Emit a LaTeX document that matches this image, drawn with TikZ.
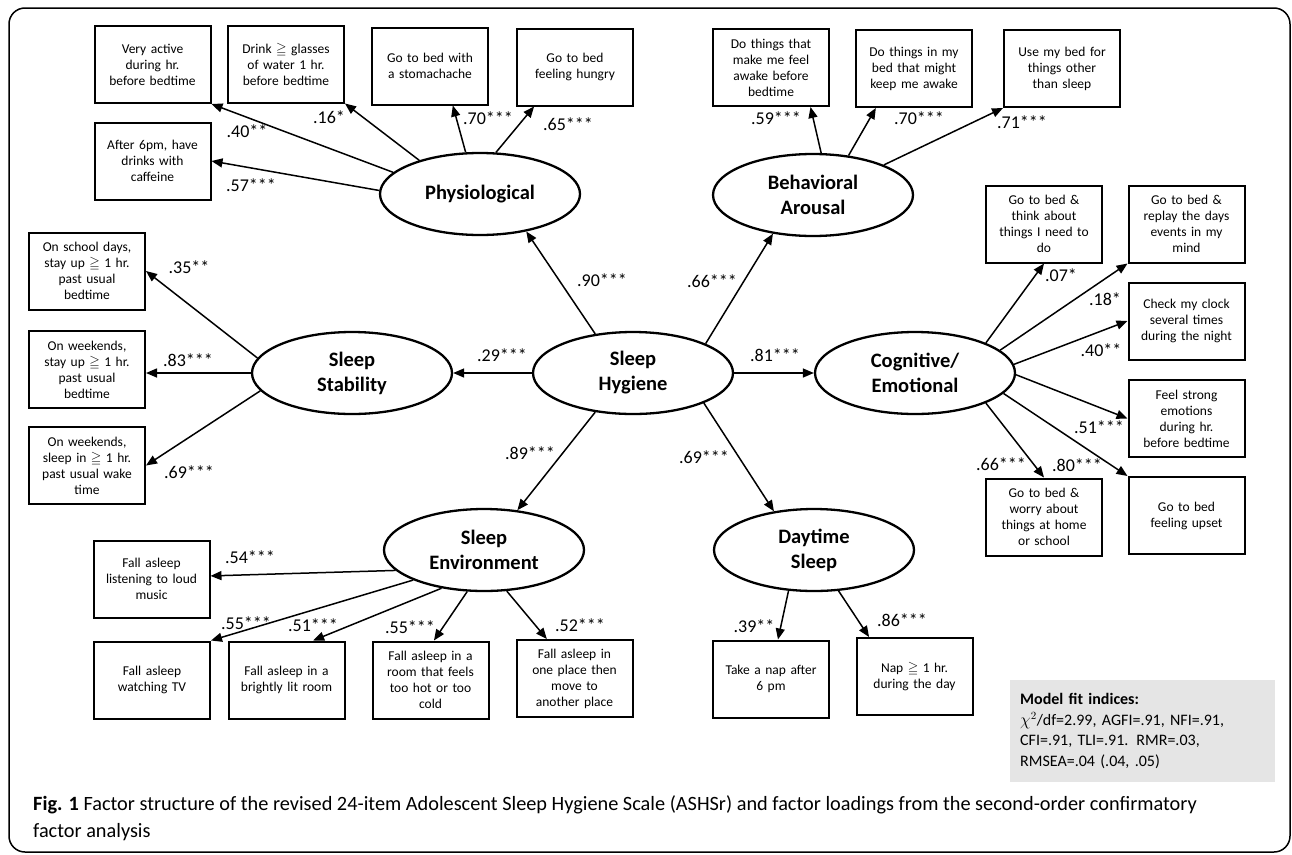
\documentclass[tikz,border=0pt]{standalone}
\usepackage{fontspec}
\usepackage{amssymb}
\setmainfont{Carlito}
\usetikzlibrary{shapes.geometric,arrows.meta}

\tikzset{
	itembox/.style={draw, line width=2pt, minimum width=116pt, minimum height=77pt, text width=110pt, align=center, inner sep=0pt, font=\fontsize{13.5}{16}\selectfont},
	factor/.style={ellipse, draw, line width=2.3pt, minimum width=200pt, minimum height=82pt, inner sep=0pt, align=center, font=\bfseries\fontsize{20.5}{25}\selectfont},
	loadarrow/.style={line width=1.5pt, -{Triangle[length=11pt,width=9pt]}},
	coef/.style={font=\fontsize{18}{20}\selectfont, inner sep=0pt},
}

\begin{document}
\begin{tikzpicture}[x=1pt,y=-1pt]
	\useasboundingbox (0,0) rectangle (1292,854);
	% cornice
	\draw[line width=1.5pt, rounded corners=16pt] (9,8) rectangle (1290,852);

	% fattori
	\node[factor] (hyg) at (633,373) {Sleep\\Hygiene};
	\node[factor] (stab) at (352,373) {Sleep\\Stability};
	\node[factor] (cog) at (915,373) {Cognitive/\\Emotional};
	\node[factor] (phys) at (480,194) {Physiological};
	\node[factor] (beh) at (813,195) {Behavioral\\Arousal};
	\node[factor] (env) at (484,550) {Sleep\\Environment};
	\node[factor] (day) at (814,550) {Daytime\\Sleep};

	% item fisiologici
	\node[itembox] (va) at (152.5,64.5) {Very active\\during hr.\\before bedtime};
	\node[itembox] (drink) at (286,64) {Drink $\geqq$ glasses\\of water 1 hr.\\before bedtime};
	\node[itembox] (stom) at (430,66) {Go to bed with\\a stomachache};
	\node[itembox] (hungry) at (575,67) {Go to bed\\feeling hungry};
	\node[itembox] (caff) at (152.5,161) {After 6pm, have\\drinks with\\caffeine};

	% item comportamentali
	\node[itembox] (awake) at (771,67.5) {Do things that\\make me feel\\awake before\\bedtime};
	\node[itembox] (keep) at (914,68.5) {Do things in my\\bed that might\\keep me awake};
	\node[itembox] (use) at (1062,68.5) {Use my bed for\\things other\\than sleep};

	% item cognitivi
	\node[itembox] (think) at (1044,224) {Go to bed \&\\think about\\things I need to\\do};
	\node[itembox] (replay) at (1186.5,224) {Go to bed \&\\replay the days\\events in my\\mind};
	\node[itembox] (clock) at (1186.5,321) {Check my clock\\several times\\during the night};
	\node[itembox] (strong) at (1186.5,418.5) {Feel strong\\emotions\\during hr.\\before bedtime};
	\node[itembox] (worry) at (1044,517) {Go to bed \&\\worry about\\things at home\\or school};
	\node[itembox] (upset) at (1186.5,515.5) {Go to bed\\feeling upset};

	% item stabilita
	\node[itembox] (school) at (87,271) {On school days,\\stay up $\geqq$ 1 hr.\\past usual\\bedtime};
	\node[itembox] (wkstay) at (87,369.5) {On weekends,\\stay up $\geqq$ 1 hr.\\past usual\\bedtime};
	\node[itembox] (wksleep) at (87,465.5) {On weekends,\\sleep in $\geqq$ 1 hr.\\past usual wake\\time};

	% item ambiente
	\node[itembox] (music) at (151.5,579) {Fall asleep\\listening to loud\\music};
	\node[itembox] (tv) at (152,680) {Fall asleep\\watching TV};
	\node[itembox] (bright) at (286.5,680) {Fall asleep in a\\brightly lit room};
	\node[itembox] (hot) at (430.5,680) {Fall asleep in a\\room that feels\\too hot or too\\cold};
	\node[itembox] (move) at (574.5,678.5) {Fall asleep in\\one place then\\move to\\another place};

	% item sonno diurno
	\node[itembox] (nap6) at (771,679) {Take a nap after\\6 pm};
	\node[itembox] (napday) at (914.5,676.5) {Nap $\geqq$ 1 hr.\\during the day};

	% frecce
	\draw[loadarrow] (hyg.west) -- (stab.east);
	\draw[loadarrow] (hyg.east) -- (cog.west);
	\draw[loadarrow] (hyg.134) -- (phys.-39);
	\draw[loadarrow] (hyg.22) -- (beh.224);
	\draw[loadarrow] (hyg.226) -- (env.50);
	\draw[loadarrow] (hyg.-23) -- (day.136);

	\draw[loadarrow] (phys.166) -- (va.south east);
	\draw[loadarrow] (phys.151) -- (drink.south east);
	\draw[loadarrow] (phys.178) -- (caff.east);
	\draw[loadarrow] (phys.109) -- (stom.-60);
	\draw[loadarrow] (phys.69) -- (hungry.224);

	\draw[loadarrow] (beh.79) -- (awake.-45);
	\draw[loadarrow] (beh.48) -- (keep.226);
	\draw[loadarrow] (beh.23) -- (use.south west);

	\draw[loadarrow] (cog.23) -- (think.south);
	\draw[loadarrow] (cog.15) -- (replay.south west);
	\draw[loadarrow] (cog.5) -- (clock.west);
	\draw[loadarrow] (cog.-1) -- (strong.west);
	\draw[loadarrow] (cog.-13) -- (upset.north west);
	\draw[loadarrow] (cog.-23) -- (worry.north);

	\draw[loadarrow] (stab.171) -- (school.east);
	\draw[loadarrow] (stab.west) -- (wkstay.east |- stab.west);
	\draw[loadarrow] (stab.191) -- (wksleep.east);

	\draw[loadarrow] (env.193) -- (music.3);
	\draw[loadarrow] (env.203) -- (tv.north east);
	\draw[loadarrow] (env.222) -- (bright.56);
	\draw[loadarrow] (env.248) -- (hot.85);
	\draw[loadarrow] (env.-61) -- (move.125);

	\draw[loadarrow] (day.238) -- (nap6.80);
	\draw[loadarrow] (day.-59) -- (napday.139);

	% coefficienti
	\node[coef] (c29) at (502,355) {.29***};
	\node[coef] (c81) at (775,355) {.81***};
	\node[coef] (c90) at (602,280) {.90***};
	\node[coef] (c66) at (712,281) {.66***};
	\node[coef] (c89) at (530,453) {.89***};
	\node[coef] (c69) at (704,457) {.69***};

	\node[coef] (p40) at (247,131) {.40**};
	\node[coef] (p16) at (329,117) {.16*};
	\node[coef] (p57) at (251,185) {.57***};
	\node[coef] (p70) at (488,118) {.70***};
	\node[coef] (p65) at (568,124) {.65***};

	\node[coef] (b59) at (776,118) {.59***};
	\node[coef] (b70) at (919,118) {.70***};
	\node[coef] (b71) at (1022,122) {.71***};

	\node[coef] (e07) at (1061,275) {.07*};
	\node[coef] (e18) at (1105,299) {.18*};
	\node[coef] (e40) at (1101,350) {.40**};
	\node[coef] (e51) at (1099,427) {.51***};
	\node[coef] (e80) at (1077,465) {.80***};
	\node[coef] (e66) at (1001,464) {.66***};

	\node[coef] (s35) at (189,267) {.35**};
	\node[coef] (s83) at (188,360) {.83***};
	\node[coef] (s69) at (189,472) {.69***};

	\node[coef] (a54) at (250,557) {.54***};
	\node[coef] (a55) at (246,623) {.55***};
	\node[coef] (a51) at (313,625) {.51***};
	\node[coef] (a55b) at (410,627) {.55***};
	\node[coef] (a52) at (580,625) {.52***};

	\node[coef] (d39) at (754,626) {.39**};
	\node[coef] (d86) at (902,620) {.86***};

	% indici di adattamento
	\node[fill=black!10, anchor=north west, minimum width=265pt, minimum height=102pt, text width=245pt, align=left, inner sep=0pt, font=\fontsize{16}{20.5}\selectfont] (fit) at (1010,680)
		{\textbf{Model fit indices:}\\$\chi^{2}$/df=2.99, AGFI=.91, NFI=.91,\\CFI=.91, TLI=.91. RMR=.03,\\RMSEA=.04 (.04, .05)};

	% didascalia
	\node[anchor=north west, align=left, inner sep=0pt, font=\fontsize{20.3}{27}\selectfont] (cap) at (33,795)
		{\textbf{Fig. 1} Factor structure of the revised 24-item Adolescent Sleep Hygiene Scale (ASHSr) and factor loadings from the second-order confirmatory\\factor analysis};
\end{tikzpicture}
\end{document}
